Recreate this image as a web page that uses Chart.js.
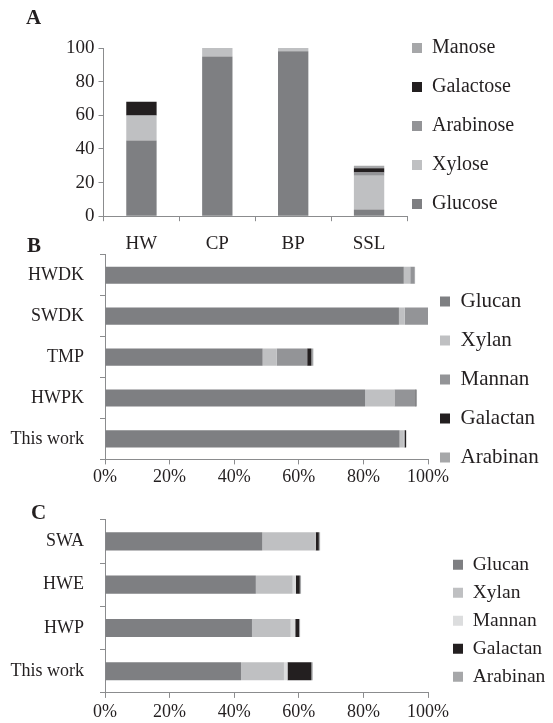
<!DOCTYPE html>
<html>
<head>
<meta charset="utf-8">
<script src="https://cdn.jsdelivr.net/npm/chart.js@4.4.0/dist/chart.umd.min.js"></script>
<style>
  html, body { margin: 0; padding: 0; background: #fff; }
  #wrap { position: relative; width: 553px; height: 723px; overflow: hidden; }
  canvas { position: absolute; }
  .tag { position: absolute; font: bold 21px 'Liberation Serif', serif; color: #231f20; }
</style>
</head>
<body>
<div id="wrap">
  <canvas id="chartA" style="left:0px;top:0px;width:553px;height:272px"></canvas>
  <canvas id="chartB" style="left:-3px;top:228px;width:553px;height:266px"></canvas>
  <canvas id="chartC" style="left:-3px;top:493px;width:553px;height:236px"></canvas>
  <div class="tag" style="left:26px;top:5px">A</div>
  <div class="tag" style="left:27px;top:233px">B</div>
  <div class="tag" style="left:31px;top:500px">C</div>
</div>
<script>
// A - sugar composition
const sugarSamples = ['HW', 'CP', 'BP', 'SSL'];
const glucose   = [45, 95, 98, 4];
const xylose    = [14.5, 5, 2, 20];
const arabinose = [0.5, 0, 0, 2];
const galactose = [8, 0, 0, 2.5];
const manose    = [0, 0, 0, 1.5];
const sugarTicks = [0, 20, 40, 60, 80, 100];

// B - polysaccharides, kraft / dissolving pulps
const pulpSamples = ['HWDK', 'SWDK', 'TMP', 'HWPK', 'This work'];
const glucanB   = [92.5, 91, 48.8, 80.5, 91.2];
const xylanB    = [2, 1.8, 4.4, 9.1, 1.3];
const mannanB   = [1.2, 7.2, 9.4, 6.5, 0.3];
const galactanB = [0, 0, 1.3, 0.2, 0.4];
const arabinanB = [0.3, 0, 0.6, 0.3, 0.1];

// C - polysaccharides, extracts
const extractSamples = ['SWA', 'HWE', 'HWP', 'This work'];
const glucanC   = [48.7, 46.7, 45.5, 42.1];
const xylanC    = [16.3, 11.4, 12.0, 13.3];
const mannanC   = [0.2, 1.0, 1.4, 1.1];
const galactanC = [1.0, 1.2, 1.2, 7.4];
const arabinanC = [0.4, 0.4, 0.3, 0.4];

const pctTicks = [0, 20, 40, 60, 80, 100];

const INK = '#231f20';
const AXIS = '#8b8c8e';
const DARK = '#7e7f82', LIGHT = '#bfc0c2', MID = '#939497', BLACK = '#231f20', PALE = '#a6a7a9', XPALE = '#dcddde';

Chart.defaults.font.family = "'Liberation Serif', 'Times New Roman', serif";
Chart.defaults.font.size = 18;
Chart.defaults.color = INK;
Chart.defaults.animation = false;

// moves the legend to a given spot after layout (it gets no layout width)
const placeLegend = {
  id: 'placeLegend',
  afterLayout(chart, args, opts) {
    const lg = chart.legend;
    const pad = lg.options.labels.padding;
    lg.left = opts.x - pad;
    lg.right = chart.width;
    lg.top = opts.y - pad;
    lg.bottom = chart.height;
  }
};

function seg(label, data, color) {
  return { label, data, backgroundColor: color, borderWidth: 0 };
}

function gridStyle(offset) {
  return { display: true, drawOnChartArea: false, drawTicks: true, tickLength: 5, color: AXIS, lineWidth: 1, offset };
}

function legendOpts(size, pad, reverse) {
  return {
    position: 'right',
    align: 'start',
    reverse,
    maxWidth: 1,
    labels: { boxWidth: 10, boxHeight: 10, padding: pad, color: INK, font: { size } }
  };
}

function make(id, w, h, config) {
  const c = document.getElementById(id);
  c.width = w; c.height = h;
  return new Chart(c, config);
}

// Panel A
make('chartA', 553, 272, {
  type: 'bar',
  data: {
    labels: sugarSamples,
    datasets: [
      seg('Glucose', glucose, DARK),
      seg('Xylose', xylose, LIGHT),
      seg('Arabinose', arabinose, MID),
      seg('Galactose', galactose, BLACK),
      seg('Manose', manose, PALE)
    ]
  },
  options: {
    responsive: false,
    layout: { padding: { top: 48, left: 62, right: 145, bottom: 6 } },
    datasets: { bar: { categoryPercentage: 1, barPercentage: 0.4 } },
    scales: {
      x: {
        stacked: true,
        grid: gridStyle(true),
        border: { color: AXIS, width: 1 },
        ticks: { padding: 11, color: INK, font: { size: 19 } }
      },
      y: {
        stacked: true,
        min: 0, max: 100,
        afterBuildTicks: s => { s.ticks = sugarTicks.map(v => ({ value: v })); },
        grid: gridStyle(false),
        border: { color: AXIS, width: 1 },
        ticks: { padding: 4, color: INK, font: { size: 19 } }
      }
    },
    plugins: {
      legend: legendOpts(20, 19, true),
      placeLegend: { x: 412, y: 38 },
      tooltip: { enabled: false }
    }
  },
  plugins: [placeLegend]
});

function hbar(id, h, labels, sets, pad, tickPad, legendFont, legendX, legendY, legendPad) {
  return make(id, 553, h, {
    type: 'bar',
    data: { labels, datasets: sets },
    options: {
      indexAxis: 'y',
      responsive: false,
      layout: { padding: pad },
      datasets: { bar: { categoryPercentage: 1, barPercentage: 0.42 } },
      scales: {
        x: {
          stacked: true,
          min: 0, max: 100,
          afterBuildTicks: s => { s.ticks = pctTicks.map(v => ({ value: v })); },
          grid: gridStyle(false),
          border: { color: AXIS, width: 1 },
          ticks: { padding: tickPad, color: INK, callback: v => v + '%' }
        },
        y: {
          stacked: true,
          grid: gridStyle(true),
          border: { color: AXIS, width: 1 },
          ticks: { padding: 16, color: INK }
        }
      },
      plugins: {
        legend: legendOpts(legendFont, legendPad, false),
        placeLegend: { x: legendX, y: legendY },
        tooltip: { enabled: false }
      }
    },
    plugins: [placeLegend]
  });
}

// Panel B
hbar('chartB', 266, pulpSamples, [
  seg('Glucan', glucanB, DARK),
  seg('Xylan', xylanB, LIGHT),
  seg('Mannan', mannanB, MID),
  seg('Galactan', galactanB, BLACK),
  seg('Arabinan', arabinanB, PALE)
], { top: 0, left: 0, right: 121, bottom: 4 }, 2, 21, 443, 63, 18);

// Panel C
hbar('chartC', 236, extractSamples, [
  seg('Glucan', glucanC, DARK),
  seg('Xylan', xylanC, LIGHT),
  seg('Mannan', mannanC, XPALE),
  seg('Galactan', galactanC, BLACK),
  seg('Arabinan', arabinanC, PALE)
], { top: 0, left: 0, right: 121, bottom: 1.5 }, 4, 19.5, 456, 62, 8.5);
</script>
</body>
</html>
